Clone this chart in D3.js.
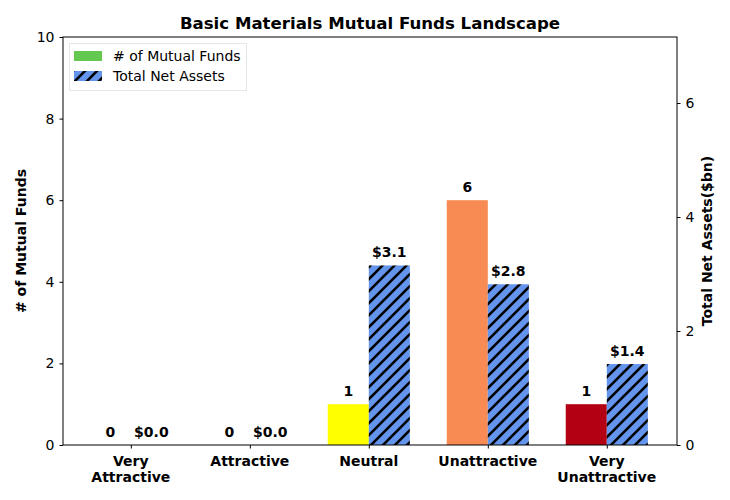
<!DOCTYPE html>
<html><head><meta charset="utf-8">
<script src="https://cdn.jsdelivr.net/npm/d3@7"></script>
<style>body{margin:0;background:#fff;} svg{font-family:"DejaVu Sans",sans-serif;}</style>
</head><body>
<svg id="c" width="730" height="500"></svg>
<script>
const categories = ["Very\nAttractive","Attractive","Neutral","Unattractive","Very\nUnattractive"];
const fundCounts = [0,0,1,6,1];
const netAssets = [0,0,3.15,2.82,1.42];
const assetLabels = ["$0.0","$0.0","$3.1","$2.8","$1.4"];
const countColors = ["#62C94E","#62C94E","#FFFF00","#F88A54","#B30012"];
const leftTicks = [0,2,4,6,8,10];
const rightTicks = [0,2,4,6];

const svg = d3.select("#c");
const L=63,R=677,T=37,B=445;
const x = d3.scaleLinear().domain([-0.57,4.59]).range([L,R]);
const yL = d3.scaleLinear().domain([0,10]).range([B,T]);
const yR = d3.scaleLinear().domain([0,7.158]).range([B,T]);
const bw = 0.345;
const FS = 14;

const defs = svg.append("defs");
const pat = defs.append("pattern").attr("id","hatch").attr("patternUnits","userSpaceOnUse")
  .attr("width",12).attr("height",12);
pat.append("rect").attr("width",12).attr("height",12).attr("fill","#6495ED");
pat.append("path").attr("d","M-3,3 L3,-3 M0,12 L12,0 M9,15 L15,9").attr("stroke","#000").attr("stroke-width",2.6);

svg.append("g").selectAll("rect").data(fundCounts).join("rect")
  .attr("x",(d,i)=>x(i-bw)).attr("width",(d,i)=>x(i)-x(i-bw))
  .attr("y",d=>yL(d)).attr("height",d=>B-yL(d))
  .attr("fill",(d,i)=>countColors[i]);
svg.append("g").selectAll("rect").data(netAssets).join("rect")
  .attr("x",(d,i)=>x(i)).attr("width",(d,i)=>x(i+bw)-x(i))
  .attr("y",d=>yR(d)).attr("height",d=>B-yR(d))
  .attr("fill","url(#hatch)");

const lab = svg.append("g").attr("font-size",FS).attr("font-weight","bold").attr("text-anchor","middle");
fundCounts.forEach((d,i)=>{
  lab.append("text").attr("x",x(i-bw/2)).attr("y",yL(d)-8).text(d);
});
netAssets.forEach((d,i)=>{
  lab.append("text").attr("x",x(i+bw/2)).attr("y",yR(d)-8).text(assetLabels[i]);
});

svg.append("rect").attr("x",L).attr("y",T).attr("width",R-L).attr("height",B-T)
  .attr("fill","none").attr("stroke","#000").attr("stroke-width",1);

const axL = svg.append("g").attr("transform",`translate(${L},0)`)
  .call(d3.axisLeft(yL).tickValues(leftTicks).tickSize(3.5).tickPadding(5));
const axR = svg.append("g").attr("transform",`translate(${R},0)`)
  .call(d3.axisRight(yR).tickValues(rightTicks).tickSize(3.5).tickPadding(5));
const axB = svg.append("g").attr("transform",`translate(0,${B})`)
  .call(d3.axisBottom(x).tickValues(d3.range(categories.length)).tickSize(3.5).tickFormat(""));
[axL,axR,axB].forEach(a=>{a.select(".domain").remove();
  a.selectAll("text").attr("font-size",FS).attr("font-family","DejaVu Sans").attr("fill","#000");
  a.selectAll("line").attr("stroke","#000");});

const xl = svg.append("g").attr("font-size",FS).attr("font-weight","bold").attr("text-anchor","middle");
categories.forEach((c,i)=>{
  c.split("\n").forEach((ln,j)=>{
    xl.append("text").attr("x",x(i)).attr("y",466+j*16).text(ln);
  });
});

svg.append("text").attr("x",(L+R)/2).attr("y",29).attr("text-anchor","middle")
  .attr("font-size",16.6).attr("font-weight","bold").text("Basic Materials Mutual Funds Landscape");
svg.append("text").attr("transform",`translate(26,${(T+B)/2}) rotate(-90)`).attr("text-anchor","middle")
  .attr("font-size",FS).attr("font-weight","bold").text("# of Mutual Funds");
svg.append("text").attr("transform",`translate(712,${(T+B)/2}) rotate(-90)`).attr("text-anchor","middle")
  .attr("font-size",FS).attr("font-weight","bold").text("Total Net Assets($bn)");

const lg = svg.append("g");
lg.append("rect").attr("x",69.5).attr("y",43.5).attr("width",177).attr("height",47)
  .attr("fill","#fff").attr("fill-opacity",0.8).attr("stroke","#ccc").attr("stroke-dasharray","1,1");
lg.append("rect").attr("x",74).attr("y",51).attr("width",28).attr("height",10).attr("fill","#62C94E");
lg.append("rect").attr("x",74).attr("y",71).attr("width",28).attr("height",10).attr("fill","url(#hatch)");
lg.append("text").attr("x",113).attr("y",61).attr("font-size",FS).text("# of Mutual Funds");
lg.append("text").attr("x",113).attr("y",81).attr("font-size",FS).text("Total Net Assets");
</script>
</body></html>
